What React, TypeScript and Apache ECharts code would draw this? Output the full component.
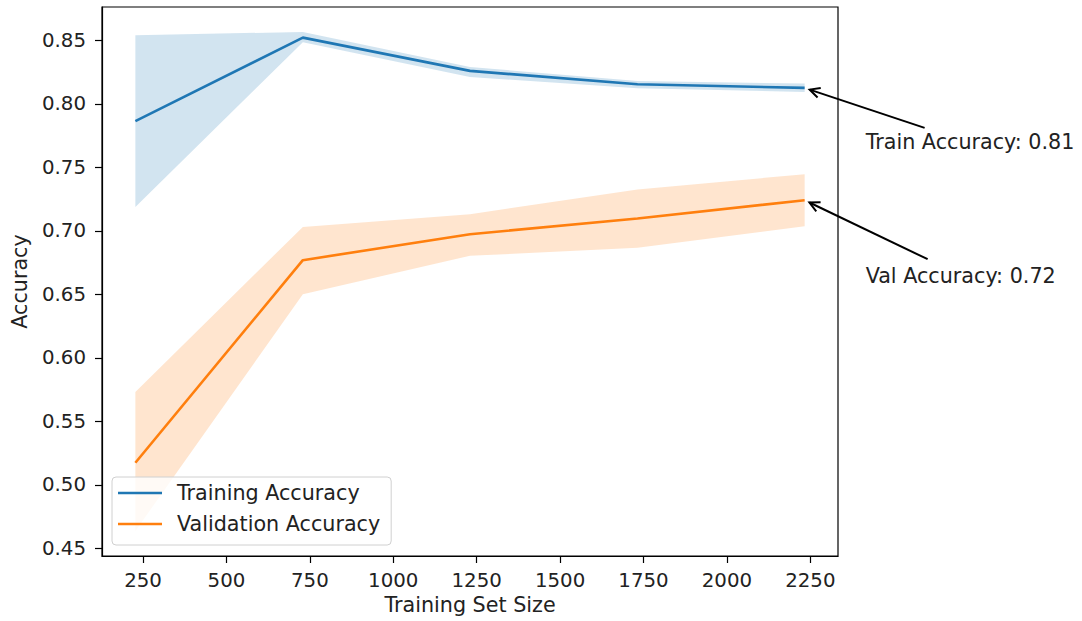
import React, { useEffect, useRef } from "react";
import * as echarts from "echarts";

// ---- data ----
const trainSizes = [227, 729, 1230, 1732, 2233];
const trainMean = [0.7863, 0.8521, 0.8259, 0.8154, 0.8125];
const trainUpper = [0.8539, 0.8566, 0.829, 0.818, 0.8159];
const trainLower = [0.7188, 0.8484, 0.8211, 0.8122, 0.8093];
const valMean = [0.5174, 0.6769, 0.6973, 0.7097, 0.7241];
const valUpper = [0.5732, 0.7031, 0.7131, 0.7325, 0.7446];
const valLower = [0.4637, 0.6501, 0.6803, 0.6866, 0.7036];

const xTicks = [250, 500, 750, 1000, 1250, 1500, 1750, 2000, 2250];
const yTicks = [0.45, 0.5, 0.55, 0.6, 0.65, 0.7, 0.75, 0.8, 0.85];

const seriesNames = ["Training Accuracy", "Validation Accuracy"];
const annotationLabels = ["Train Accuracy: 0.81", "Val Accuracy: 0.72"];
const xAxisTitle = "Training Set Size";
const yAxisTitle = "Accuracy";

const FONT = "DejaVu Sans";
const TXT = "#222";
const BLUE = "#1f77b4";
const ORANGE = "#ff7f0e";

function bandSeries(name: string, xs: number[], lo: number[], hi: number[], fill: string) {
  return {
    name,
    type: "custom",
    silent: true,
    z: 1,
    clip: true,
    encode: { x: 0, y: [1, 2] },
    data: xs.map((x, i) => [x, lo[i], hi[i]]),
    renderItem: (params: any, api: any) => {
      if (params.dataIndex !== 0) return { type: "group", children: [] };
      const pts: number[][] = [];
      for (let i = 0; i < xs.length; i++) pts.push(api.coord([xs[i], hi[i]]));
      for (let i = xs.length - 1; i >= 0; i--) pts.push(api.coord([xs[i], lo[i]]));
      return {
        type: "polygon",
        shape: { points: pts },
        style: { fill, stroke: "none" },
      };
    },
  };
}

export default function App() {
  const ref = useRef<HTMLDivElement>(null);

  useEffect(() => {
    if (!ref.current) return;
    const chart = echarts.init(ref.current, undefined, { renderer: "svg" });

    const pairs = (xs: number[], ys: number[]) => xs.map((x, i) => [x, ys[i]]);

    chart.setOption({
      animation: false,
      backgroundColor: "#fff",
      grid: {
        left: 102,
        right: 1082 - 838,
        top: 7,
        bottom: 621 - 556,
        containLabel: false,
        show: true,
        borderColor: "#000",
        borderWidth: 1.2,
        backgroundColor: "transparent",
      },
      xAxis: {
        type: "value",
        min: 127,
        max: 2333,
        name: xAxisTitle,
        nameLocation: "middle",
        nameGap: 38,
        nameTextStyle: { fontFamily: FONT, fontSize: 20.7, color: TXT },
        axisLine: { show: true, onZero: false, lineStyle: { color: "#000", width: 1.2 } },
        axisTick: { show: true, length: 7, customValues: xTicks, lineStyle: { color: "#000", width: 1.2 } },
        axisLabel: {
          customValues: xTicks,
          margin: 14,
          fontFamily: FONT,
          fontSize: 19.8,
          color: TXT,
          formatter: (v: number) => String(v),
        },
        splitLine: { show: false },
      },
      yAxis: {
        type: "value",
        min: 0.444,
        max: 0.8762,
        name: yAxisTitle,
        nameLocation: "middle",
        nameGap: 72,
        nameTextStyle: { fontFamily: FONT, fontSize: 20.7, color: TXT },
        axisLine: { show: true, onZero: false, lineStyle: { color: "#000", width: 1.2 } },
        axisTick: { show: true, length: 7, customValues: yTicks, lineStyle: { color: "#000", width: 1.2 } },
        axisLabel: {
          customValues: yTicks,
          margin: 16,
          fontFamily: FONT,
          fontSize: 19.8,
          color: TXT,
          formatter: (v: number) => v.toFixed(2),
        },
        splitLine: { show: false },
      },
      legend: {
        data: seriesNames,
        orient: "vertical",
        left: 112,
        top: 477,
        icon: "rect",
        itemWidth: 44,
        itemHeight: 2.6,
        itemGap: 9,
        padding: [5, 11, 10, 6],
        borderColor: "#d0d0d0",
        borderWidth: 1,
        borderRadius: 4,
        backgroundColor: "rgba(255,255,255,0.8)",
        textStyle: {
          fontFamily: FONT,
          fontSize: 20.7,
          lineHeight: 22,
          color: TXT,
          padding: [0, 0, 0, 10],
        },
      },
      series: [
        bandSeries("trainBand", trainSizes, trainLower, trainUpper, "rgba(31,119,180,0.2)"),
        bandSeries("valBand", trainSizes, valLower, valUpper, "rgba(255,127,14,0.2)"),
        {
          name: seriesNames[0],
          type: "line",
          data: pairs(trainSizes, trainMean),
          symbol: "none",
          color: BLUE,
          lineStyle: { color: BLUE, width: 2.6 },
          z: 3,
        },
        {
          name: seriesNames[1],
          type: "line",
          data: pairs(trainSizes, valMean),
          symbol: "none",
          color: ORANGE,
          lineStyle: { color: ORANGE, width: 2.6 },
          z: 3,
        },
      ],
    });

    // annotations (arrows + text), anchored on the last data points
    const last = trainSizes.length - 1;
    const anchors = [
      { pt: [trainSizes[last], trainMean[last]], tail: [120, 40], text: [61, 54], label: annotationLabels[0] },
      { pt: [trainSizes[last], valMean[last]], tail: [123, 59], text: [61, 76], label: annotationLabels[1] },
    ];
    const graphics: any[] = [];
    anchors.forEach((a) => {
      const p = chart.convertToPixel({ gridIndex: 0 }, a.pt) as number[];
      const tx = p[0] + a.tail[0];
      const ty = p[1] + a.tail[1];
      const dx = tx - p[0];
      const dy = ty - p[1];
      const len = Math.sqrt(dx * dx + dy * dy);
      const ux = dx / len;
      const uy = dy / len;
      const shrink = 5.3;
      const hx = p[0] + ux * shrink;
      const hy = p[1] + uy * shrink;
      const L = 10;
      const W = 5;
      const nx = -uy;
      const ny = ux;
      graphics.push({
        type: "line",
        shape: { x1: tx, y1: ty, x2: hx, y2: hy },
        style: { stroke: "#000", lineWidth: 2 },
        z: 10,
      });
      graphics.push({
        type: "polyline",
        shape: {
          points: [
            [hx + ux * L + nx * W, hy + uy * L + ny * W],
            [hx, hy],
            [hx + ux * L - nx * W, hy + uy * L - ny * W],
          ],
        },
        style: { stroke: "#000", lineWidth: 2, fill: null },
        z: 10,
      });
      graphics.push({
        type: "text",
        x: p[0] + a.text[0],
        y: p[1] + a.text[1],
        style: {
          text: a.label,
          fontFamily: FONT,
          fontSize: 20.7,
          fill: TXT,
          textAlign: "left",
          verticalAlign: "middle",
        },
        z: 10,
      });
    });
    chart.setOption({ graphic: graphics });

    return () => chart.dispose();
  }, []);

  return (
    <div
      ref={ref}
      style={{ position: "absolute", left: 0, top: 0, width: 1082, height: 621 }}
    />
  );
}
